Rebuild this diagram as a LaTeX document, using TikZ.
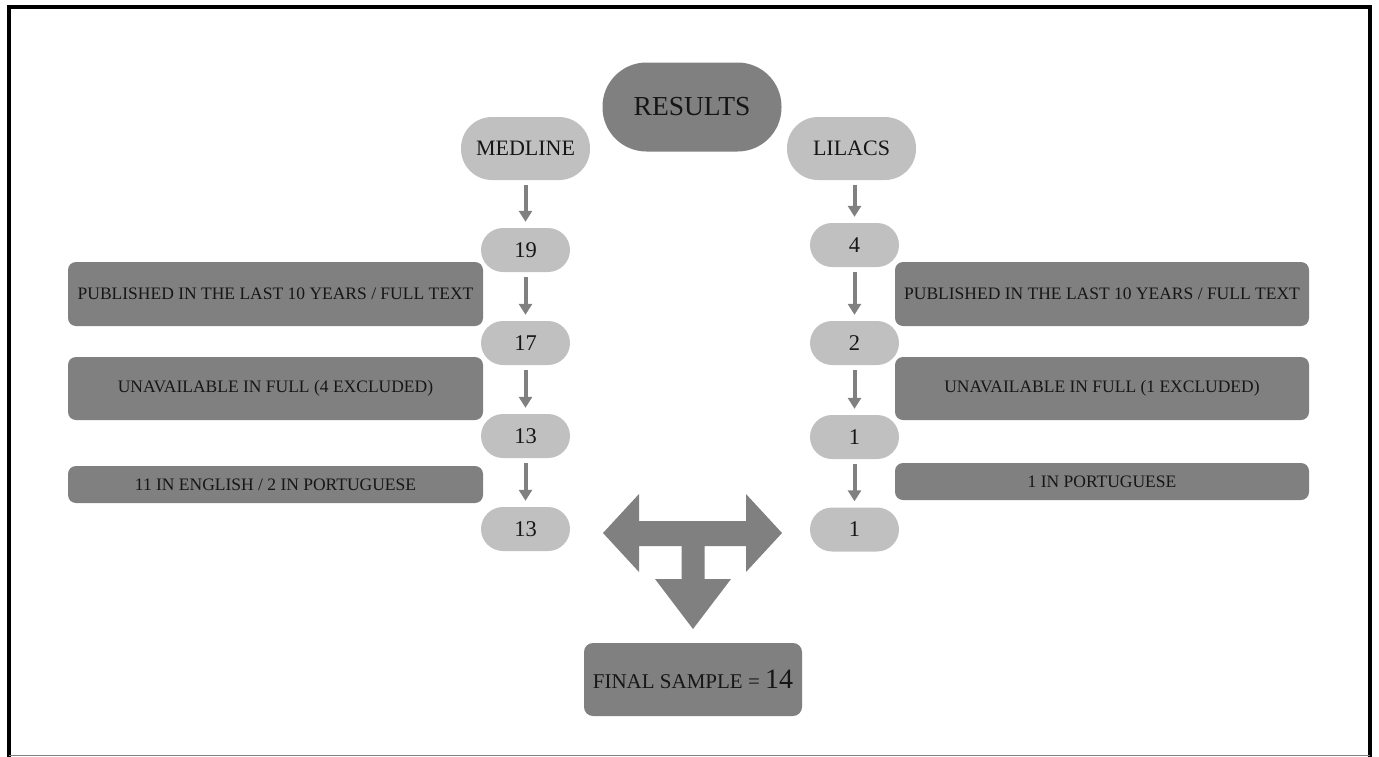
\documentclass[tikz,border=0pt]{standalone}
\usepackage{fontspec}
\setmainfont{Liberation Serif}
\usetikzlibrary{arrows.meta}
\definecolor{darkbox}{RGB}{128,128,128}
\definecolor{lightbox}{RGB}{192,192,192}
\definecolor{ink}{RGB}{22,22,22}
\begin{document}
\begin{tikzpicture}[x=1pt,y=-1pt,
  every node/.style={inner sep=0pt, text=ink},
  stadium/.style={fill=lightbox, rounded corners=31pt, minimum width=129pt, minimum height=63pt, font=\fontsize{22}{24}\selectfont},
  numbox/.style={fill=lightbox, rounded corners=22pt, minimum width=89pt, minimum height=44pt, font=\fontsize{22.5}{24}\selectfont},
  darkrect/.style={fill=darkbox, rounded corners=8pt, minimum width=415pt, font=\fontsize{17.5}{20}\selectfont},
  flow/.style={draw=darkbox, line width=4pt, -{Triangle[width=13pt,length=11pt]}, shorten <=5pt, shorten >=6pt}]
\useasboundingbox (0,0) rectangle (1379,756);
% frame
\draw[black, line width=4pt] (8.5,758) -- (8.5,7) -- (1369.5,7) -- (1369.5,758);
\draw[gray, line width=1pt] (8.5,755.5) -- (1369.5,755.5);
% top
\node[fill=darkbox, rounded corners=44pt, minimum width=179pt, minimum height=89pt, font=\fontsize{27.5}{30}\selectfont] (results) at (692,107) {RESULTS};
\node[stadium] (medline) at (525.5,148.5) {MEDLINE};
\node[stadium] (lilacs) at (851.5,148.5) {LILACS};
% left column
\node[numbox] (m1) at (525.5,250) {19};
\node[numbox] (m2) at (525.5,343) {17};
\node[numbox] (m3) at (525.5,436) {13};
\node[numbox] (m4) at (525.5,529) {13};
% right column
\node[numbox] (l1) at (854.5,245) {4};
\node[numbox] (l2) at (854.5,343) {2};
\node[numbox] (l3) at (854.5,437) {1};
\node[numbox] (l4) at (854.5,529.5) {1};
% left dark boxes
\node[darkrect, minimum height=64pt] (mp) at (275.5,294) {PUBLISHED IN THE LAST 10 YEARS / FULL TEXT};
\node[darkrect, minimum height=63pt] (mu) at (275.5,388.5) {UNAVAILABLE IN FULL (4 EXCLUDED)};
\node[darkrect, minimum height=37pt] (me) at (275.5,484.5) {11 IN ENGLISH / 2 IN PORTUGUESE};
% right dark boxes
\node[darkrect, minimum width=414pt, minimum height=64pt] (lp) at (1102,294) {PUBLISHED IN THE LAST 10 YEARS / FULL TEXT};
\node[darkrect, minimum width=414pt, minimum height=63pt] (lu) at (1102,388.5) {UNAVAILABLE IN FULL (1 EXCLUDED)};
\node[darkrect, minimum width=414pt, minimum height=37pt] (lq) at (1102,481.5) {1 IN PORTUGUESE};
% arrows
\draw[flow] (medline.south) -- (m1.north);
\draw[flow] (m1.south) -- (m2.north);
\draw[flow] (m2.south) -- (m3.north);
\draw[flow] (m3.south) -- (m4.north);
\draw[flow] (lilacs.south -| l1.north) -- (l1.north);
\draw[flow] (l1.south) -- (l2.north);
\draw[flow] (l2.south) -- (l3.north);
\draw[flow] (l3.south) -- (l4.north);
% T arrow
\fill[darkbox] (603,533) -- (639,494) -- (639,521) -- (746,521) -- (746,494) -- (782,533)
  -- (746,572) -- (746,546) -- (704.5,546) -- (704.5,579) -- (731,579) -- (693,629)
  -- (655,579) -- (681.5,579) -- (681.5,546) -- (639,546) -- (639,572) -- cycle;
% final
\node[fill=darkbox, rounded corners=9pt, minimum width=218pt, minimum height=73pt, font=\fontsize{21}{24}\selectfont] (final) at (693,679.5) {FINAL SAMPLE = {\fontsize{28}{30}\selectfont 14}};
\end{tikzpicture}
\end{document}
